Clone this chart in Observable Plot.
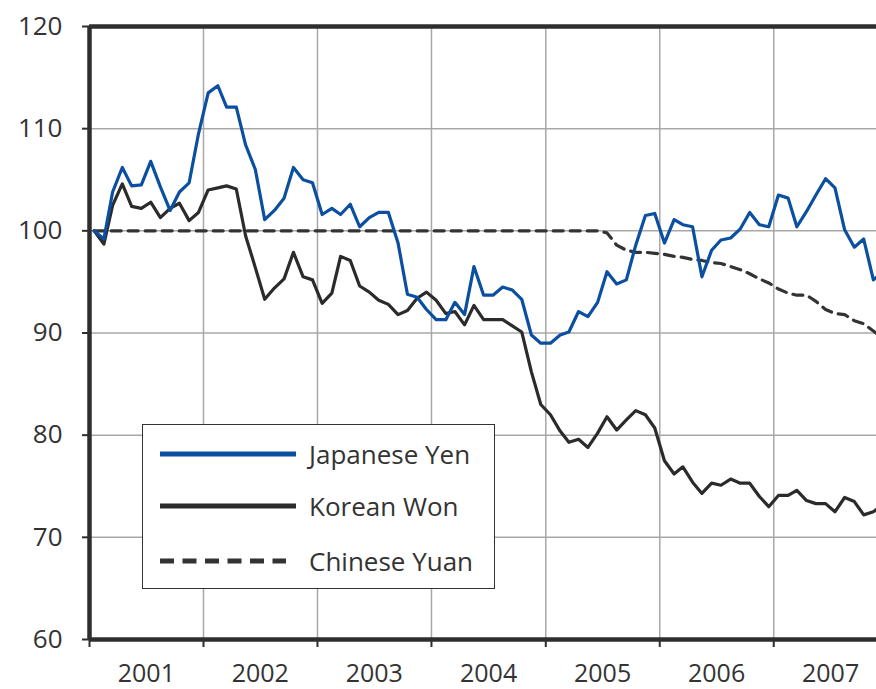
<!DOCTYPE html>
<html>
<head>
<meta charset="utf-8">
<script src="https://cdn.jsdelivr.net/npm/d3@7"></script>
<script src="https://cdn.jsdelivr.net/npm/@observablehq/plot@0.6"></script>
<style>
  html, body { margin: 0; padding: 0; background: #fff; }
  #wrap { position: relative; width: 876px; height: 689px; overflow: hidden; font-family: "Open Sans", sans-serif; }
  #legend { position: absolute; left: 142px; top: 424px; width: 351px; height: 163px; border: 1.5px solid #333; background: #fff; }
</style>
</head>
<body>
<div id="wrap"></div>
<script>
// Monthly index values, January 2001 = 100
const startYear = 2001;
const yearLabels = ["2001", "2002", "2003", "2004", "2005", "2006", "2007"];
const yTicks = [60, 70, 80, 90, 100, 110, 120];
const seriesNames = ["Japanese Yen", "Korean Won", "Chinese Yuan"];

const japaneseYen = [
  100, 99.2, 103.8, 106.2, 104.4, 104.5, 106.8, 104.3, 102.0, 103.8, 104.7, 109.5,
  113.5, 114.2, 112.1, 112.1, 108.4, 106.0, 101.1, 102.0, 103.2, 106.2, 105.0, 104.7,
  101.6, 102.2, 101.6, 102.6, 100.4, 101.3, 101.8, 101.8, 98.8, 93.8, 93.5, 92.3,
  91.3, 91.3, 93.0, 91.8, 96.5, 93.7, 93.7, 94.5, 94.2, 93.3, 89.8, 89.0,
  89.0, 89.8, 90.1, 92.1, 91.6, 93.0, 96.0, 94.8, 95.2, 98.6, 101.5, 101.7,
  98.8, 101.1, 100.6, 100.4, 95.5, 98.1, 99.1, 99.3, 100.2, 101.8, 100.6, 100.4,
  103.5, 103.2, 100.4, 101.9, 103.5, 105.1, 104.2, 100.1, 98.4, 99.2, 95.2, 96.0
];
const koreanWon = [
  100, 98.7, 102.5, 104.6, 102.4, 102.2, 102.8, 101.3, 102.2, 102.7, 101.0, 101.8,
  104.0, 104.2, 104.4, 104.1, 99.5, 96.4, 93.3, 94.4, 95.3, 97.9, 95.5, 95.2,
  92.9, 93.9, 97.5, 97.1, 94.6, 94.0, 93.2, 92.8, 91.8, 92.2, 93.4, 94.0,
  93.2, 91.9, 92.1, 90.8, 92.7, 91.3, 91.3, 91.3, 90.7, 90.1, 86.2, 83.0,
  82.0, 80.4, 79.3, 79.6, 78.8, 80.2, 81.8, 80.5, 81.5, 82.4, 82.0, 80.7,
  77.5, 76.2, 76.9, 75.4, 74.3, 75.3, 75.1, 75.7, 75.3, 75.3, 74.0, 73.0,
  74.1, 74.1, 74.6, 73.6, 73.3, 73.3, 72.5, 73.9, 73.5, 72.2, 72.5, 73.2
];
const chineseYuan = [
  100, 100, 100, 100, 100, 100, 100, 100, 100, 100, 100, 100,
  100, 100, 100, 100, 100, 100, 100, 100, 100, 100, 100, 100,
  100, 100, 100, 100, 100, 100, 100, 100, 100, 100, 100, 100,
  100, 100, 100, 100, 100, 100, 100, 100, 100, 100, 100, 100,
  100, 100, 100, 100, 100, 100, 99.8, 98.6, 98.1, 97.9, 97.9, 97.8,
  97.7, 97.5, 97.4, 97.2, 97.1, 96.9, 96.8, 96.5, 96.2, 95.8, 95.3, 94.9,
  94.3, 93.9, 93.7, 93.7, 93.1, 92.3, 91.9, 91.8, 91.2, 90.9, 90.2, 89.5
];

const colors = {"Japanese Yen": "#0b4fa0", "Korean Won": "#2b2b2b", "Chinese Yuan": "#333333"};

const monthDate = (i) => new Date(Date.UTC(startYear, i, 16));
const toRows = (arr, name) => arr.map((v, i) => ({date: monthDate(i), value: v, series: name}));
const yenRows = toRows(japaneseYen, seriesNames[0]);
const wonRows = toRows(koreanWon, seriesNames[1]);
const yuanRows = toRows(chineseYuan, seriesNames[2]);

const yearStarts = yearLabels.map(y => new Date(Date.UTC(+y, 0, 1)));
const yearMids = yearLabels.map(y => new Date(Date.UTC(+y, 6, 2)));
const xStart = yearStarts[0];
const xEnd = new Date(Date.UTC(2007, 10, 26));

const gridColor = "#a8a8a8";
const frameColor = "#2e2e2e";

const chart = Plot.plot({
  width: 876,
  height: 689,
  marginLeft: 89,
  marginRight: 0,
  marginTop: 26,
  marginBottom: 50,
  style: {fontFamily: "Open Sans, sans-serif", fontSize: "26px", color: "#333", background: "#fff", overflow: "hidden"},
  x: {type: "utc", domain: [xStart, xEnd]},
  y: {domain: [60, 120]},
  marks: [
    Plot.ruleY(yTicks.slice(1, -1), {stroke: gridColor, strokeWidth: 1.5}),
    Plot.ruleX(yearStarts.slice(1), {stroke: gridColor, strokeWidth: 1.5}),
    Plot.line(yuanRows, {x: "date", y: "value", stroke: colors["Chinese Yuan"], strokeWidth: 3.2, strokeDasharray: "10,7", clip: true}),
    Plot.line(wonRows, {x: "date", y: "value", stroke: colors["Korean Won"], strokeWidth: 3.2, clip: true}),
    Plot.line(yenRows, {x: "date", y: "value", stroke: colors["Japanese Yen"], strokeWidth: 3.2, clip: true}),
    Plot.axisY({ticks: yTicks, tickSize: 7, tickPadding: 20, strokeWidth: 2, stroke: frameColor, fontSize: 26, fill: "#333", label: null}),
    Plot.axisX({ticks: yearStarts, tickSize: 8, tickFormat: () => "", strokeWidth: 2, stroke: frameColor, label: null}),
    Plot.axisX({ticks: yearMids, tickSize: 0, tickPadding: 25, tickFormat: d => String(d.getUTCFullYear()), fontSize: 25, fill: "#333", label: null}),
    Plot.ruleX([xStart], {stroke: frameColor, strokeWidth: 4.5}),
    Plot.ruleY([60, 120], {stroke: frameColor, strokeWidth: 4.5})
  ]
});

const wrap = document.getElementById("wrap");
wrap.appendChild(chart);

// Legend overlay
const legend = document.createElement("div");
legend.id = "legend";
const ns = "http://www.w3.org/2000/svg";
const lsvg = document.createElementNS(ns, "svg");
lsvg.setAttribute("width", 351);
lsvg.setAttribute("height", 163);
const rows = [
  {name: seriesNames[0], cy: 29, dash: null, x2: 153},
  {name: seriesNames[1], cy: 81, dash: null, x2: 153},
  {name: seriesNames[2], cy: 136, dash: "14,8.5", x2: 143}
];
rows.forEach(r => {
  const ln = document.createElementNS(ns, "line");
  ln.setAttribute("x1", 17); ln.setAttribute("x2", r.x2);
  ln.setAttribute("y1", r.cy); ln.setAttribute("y2", r.cy);
  ln.setAttribute("stroke", colors[r.name]);
  ln.setAttribute("stroke-width", 5);
  if (r.dash) ln.setAttribute("stroke-dasharray", r.dash);
  lsvg.appendChild(ln);
  const t = document.createElementNS(ns, "text");
  t.setAttribute("x", 166); t.setAttribute("y", r.cy + 10);
  t.setAttribute("font-family", "Open Sans, sans-serif");
  t.setAttribute("font-size", 26);
  t.setAttribute("fill", "#333");
  t.textContent = r.name;
  lsvg.appendChild(t);
});
legend.appendChild(lsvg);
wrap.appendChild(legend);
</script>
</body>
</html>
